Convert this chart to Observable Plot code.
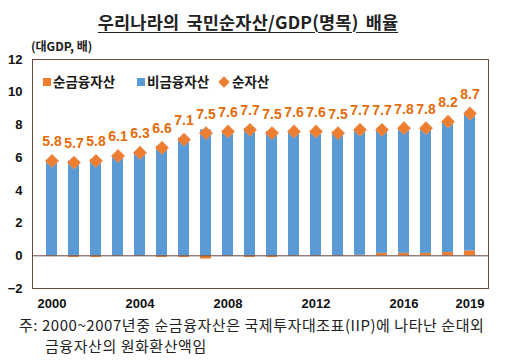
<!DOCTYPE html>
<html>
<head>
<meta charset="utf-8">
<script src="https://cdn.jsdelivr.net/npm/d3@7"></script>
<script src="https://cdn.jsdelivr.net/npm/@observablehq/plot@0.6"></script>
<style>
  html, body { margin: 0; padding: 0; background: white; }
  #wrap { position: relative; width: 512px; height: 364px; overflow: hidden; font-family: "Noto Sans CJK KR", "Noto Sans", sans-serif; }
  #wrap svg { position: absolute; left: 0; top: 0; }
  .ov { position: absolute; white-space: nowrap; color: #1a1a1a; }
  #title { left: 0; width: 496px; text-align: center; top: 8px; font-size: 17.5px; font-weight: bold; text-decoration: underline; text-underline-offset: 3px; line-height: 28px; color: #222; letter-spacing: 0.2px; word-spacing: 3px; }
  #unit { left: 31px; top: 37px; font-size: 12px; font-weight: bold; line-height: 18px; }
  .leg { top: 72px; font-size: 13.5px; font-weight: bold; line-height: 19px; }
  .sw { position: absolute; width: 8px; height: 8px; }
  .foot { font-size: 15px; line-height: 20px; color: #222; letter-spacing: 0.55px; }
</style>
</head>
<body>
<div id="wrap"></div>
<script>
// ---- data ----
const years = [2000, 2001, 2002, 2003, 2004, 2005, 2006, 2007, 2008, 2009,
               2010, 2011, 2012, 2013, 2014, 2015, 2016, 2017, 2018, 2019];
const netAssets    = [5.8, 5.7, 5.8, 6.1, 6.3, 6.6, 7.1, 7.5, 7.6, 7.7,
                      7.5, 7.6, 7.6, 7.5, 7.7, 7.7, 7.8, 7.8, 8.2, 8.7];
const netFinancial = [-0.05, -0.1, -0.1, -0.03, -0.03, -0.1, -0.1, -0.2, -0.05, -0.1,
                      -0.1, -0.03, -0.03, -0.03, 0.03, 0.15, 0.15, 0.15, 0.2, 0.3];
const nonFinancial = [5.85, 5.8, 5.9, 6.13, 6.33, 6.7, 7.2, 7.7, 7.65, 7.8,
                      7.6, 7.63, 7.63, 7.53, 7.67, 7.55, 7.65, 7.65, 8.0, 8.4];
const seriesNames = ["순금융자산", "비금융자산", "순자산"];
const xTicks = [2000, 2004, 2008, 2012, 2016, 2019];
const yTicks = [-2, 0, 2, 4, 6, 8, 10, 12];
const titleText = "우리나라의 국민순자산/GDP(명목) 배율";
const unitText = "(대GDP, 배)";
const footLines = ["주: 2000~2007년중 순금융자산은 국제투자대조표(IIP)에 나타난 순대외",
                   "금융자산의 원화환산액임"];

const ORANGE = "#ed7d31", BLUE = "#5b9bd5", LABEL = "#e36c09", FRAME = "#6b4b3e";

const bars = [];
years.forEach((y, i) => bars.push({year: y, series: seriesNames[0], value: netFinancial[i]}));
years.forEach((y, i) => bars.push({year: y, series: seriesNames[1], value: nonFinancial[i]}));
const net = years.map((y, i) => ({year: y, value: netAssets[i]}));

const chart = Plot.plot({
  width: 512, height: 364,
  marginLeft: 32, marginRight: 24, marginTop: 59, marginBottom: 76,
  style: {fontFamily: "'Liberation Sans', Arial, sans-serif", fontSize: "13px", fontWeight: "bold", color: "#111", background: "transparent", overflow: "visible"},
  x: {type: "band", domain: years, paddingInner: 0.52, paddingOuter: 0.25, label: null},
  y: {domain: [-2, 12], label: null},
  color: {domain: seriesNames.slice(0, 2), range: [ORANGE, BLUE]},
  marks: [
    Plot.barY(bars, {x: "year", y: "value", fill: "series"}),
    Plot.ruleY([0], {stroke: FRAME, strokeWidth: 1}),
    Plot.frame({stroke: FRAME, strokeWidth: 1}),
    Plot.dot(net, {x: "year", y: "value", symbol: "diamond2", r: 6, fill: ORANGE, stroke: "#f0955a", strokeWidth: 0.6}),
    Plot.text(net, {x: "year", y: "value", text: d => d.value.toFixed(1), dy: -19, fill: LABEL, fontSize: 14, fontWeight: "bold"}),
    Plot.axisX({ticks: xTicks, tickFormat: d => String(d), tickSize: 0, tickPadding: 10, fontSize: 13, fontWeight: "bold", label: null}),
    Plot.axisY({ticks: yTicks, tickSize: 0, tickPadding: 10, fontSize: 13, fontWeight: "bold", label: null})
  ]
});

const wrap = document.getElementById("wrap");
wrap.appendChild(chart);

function addDiv(cls, id, text, style) {
  const d = document.createElement("div");
  d.className = "ov " + cls;
  if (id) d.id = id;
  d.textContent = text;
  Object.assign(d.style, style || {});
  wrap.appendChild(d);
  return d;
}
addDiv("", "title", titleText);
addDiv("", "unit", unitText);

// legend
const legendItems = [
  {name: seriesNames[0], kind: "square", color: ORANGE, x: 43},
  {name: seriesNames[1], kind: "square", color: BLUE, x: 137},
  {name: seriesNames[2], kind: "diamond", color: ORANGE, x: 220}
];
legendItems.forEach(it => {
  const sw = document.createElement("div");
  sw.className = "sw";
  sw.style.left = it.x + "px";
  sw.style.background = it.color;
  sw.style.top = "78px";
  if (it.kind === "diamond") sw.style.transform = "rotate(45deg)";
  wrap.appendChild(sw);
  addDiv("leg", null, it.name, {left: (it.x + (it.kind === "diamond" ? 12 : 10)) + "px"});
});

// footnote
addDiv("foot", null, footLines[0], {left: "19px", top: "315px"});
addDiv("foot", null, footLines[1], {left: "45px", top: "336px"});
</script>
</body>
</html>
